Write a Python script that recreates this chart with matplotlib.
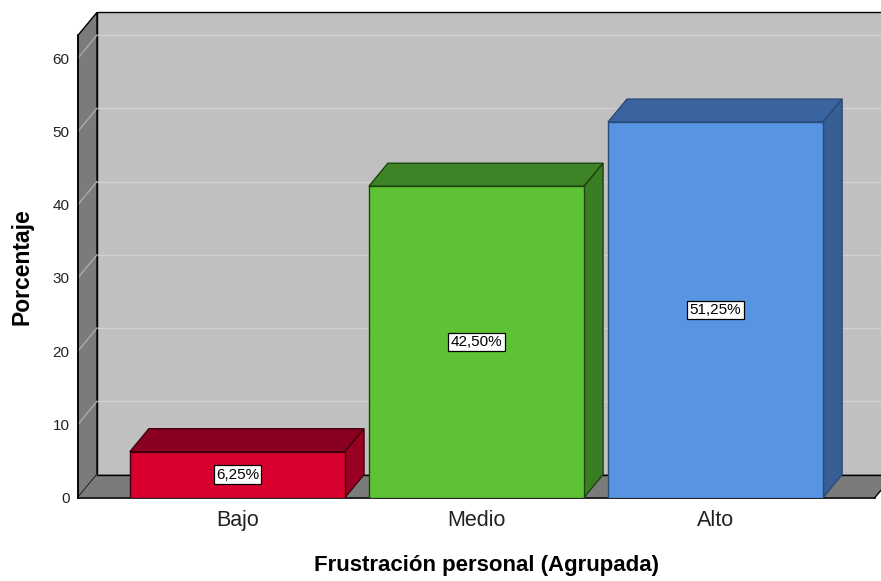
import matplotlib
matplotlib.use("Agg")
import matplotlib.pyplot as plt
from matplotlib.patches import Polygon

plt.rcParams['font.family'] = ['Liberation Sans', 'DejaVu Sans']

categories = ["Bajo", "Medio", "Alto"]
percentages = [6.25, 42.50, 51.25]
y_ticks = [0, 10, 20, 30, 40, 50, 60]
x_title = "Frustración personal (Agrupada)"
y_title = "Porcentaje"

front_colors = ["#D8002E", "#5EC334", "#5795E3"]
top_colors = ["#8A0020", "#3E8426", "#3A649F"]
side_colors = ["#9A0022", "#3A7D23", "#375E95"]
edge_colors = ["#40000E", "#1C4410", "#2A4A78"]

XMIN, XMAX = -0.667, 2.667
YMAX = 63.1
BAR_W = 0.9
# depth of the 3-D effect, in data units
DX = 19 / 239.0
DY = 23 / 7.325

W, H = 881, 581
fig = plt.figure(figsize=(W / 100, H / 100), dpi=100)
ax = fig.add_axes([78 / W, 1 - 497.5 / H, (875 - 78) / W, (497.5 - 35.3) / H])
ax.set_xlim(XMIN, XMAX)
ax.set_ylim(0, YMAX)
ax.patch.set_visible(False)
for s in ax.spines.values():
    s.set_visible(False)

wall = "#C0C0C0"
side_wall = "#7B7B7B"

# back wall
ax.add_patch(Polygon([(XMIN + DX, DY), (XMAX + DX, DY), (XMAX + DX, YMAX + DY),
                      (XMIN + DX, YMAX + DY)], closed=True, fc=wall, ec="black",
                     lw=1.0, zorder=1, clip_on=False))
# grid lines on back wall
for v in y_ticks[1:]:
    ax.plot([XMIN + DX, XMAX + DX], [v + DY, v + DY], color="#D2D2D2", lw=1.0,
            zorder=1.5, clip_on=False)
# left wall
ax.add_patch(Polygon([(XMIN, 0), (XMIN + DX, DY), (XMIN + DX, YMAX + DY), (XMIN, YMAX)],
                     closed=True, fc=side_wall, ec="black", lw=1.0, zorder=2, clip_on=False))
for v in y_ticks[1:]:
    ax.plot([XMIN, XMIN + DX], [v, v + DY], color="#ABABAB", lw=1.0, zorder=2.2,
            clip_on=False)
# floor
ax.add_patch(Polygon([(XMIN, 0), (XMAX, 0), (XMAX + DX, DY), (XMIN + DX, DY)],
                     closed=True, fc=side_wall, ec="none", zorder=2, clip_on=False))
ax.plot([XMIN + DX, XMAX + DX], [DY, DY], color="black", lw=1.0, zorder=2.3, clip_on=False)
ax.plot([XMIN, XMAX], [0, 0], color="black", lw=1.2, zorder=2.3, clip_on=False)
ax.plot([XMAX, XMAX + DX], [0, DY], color="black", lw=1.0, zorder=2.3, clip_on=False)
ax.plot([XMIN, XMIN], [0, YMAX], color="black", lw=1.2, zorder=2.4, clip_on=False)

xs = list(range(len(categories)))
bars = ax.bar(xs, percentages, width=BAR_W, color=front_colors, edgecolor=edge_colors,
              linewidth=1.0, zorder=5)
for i, (x, v) in enumerate(zip(xs, percentages)):
    l, r = x - BAR_W / 2, x + BAR_W / 2
    ax.add_patch(Polygon([(l, v), (r, v), (r + DX, v + DY), (l + DX, v + DY)], closed=True,
                         fc=top_colors[i], ec=edge_colors[i], lw=1.0, zorder=4, clip_on=False))
    ax.add_patch(Polygon([(r, 0), (r + DX, DY), (r + DX, v + DY), (r, v)], closed=True,
                         fc=side_colors[i], ec=edge_colors[i], lw=1.0, zorder=4, clip_on=False))
    ax.text(x, v / 2, f"{v:.2f}%".replace(".", ","), ha="center", va="center",
            fontsize=11, color="black", zorder=7,
            bbox=dict(boxstyle="square,pad=0.15", fc="white", ec="black", lw=0.9))

ax.set_yticks(y_ticks)
ax.set_yticklabels([str(t) for t in y_ticks], fontsize=11, color="#222222")
ax.set_xticks(xs)
ax.set_xticklabels(categories, fontsize=15.5, color="#222222")
ax.tick_params(axis="y", length=0, pad=6)
ax.tick_params(axis="x", length=0, pad=9)

fig.text(486 / W, 1 - 565 / H, x_title, ha="center", va="center", fontsize=16,
         fontweight="bold")
fig.text(22 / W, 1 - 267 / H, y_title, ha="center", va="center", fontsize=16.5,
         fontweight="bold", rotation=90)

fig.savefig("out.png", dpi=100, facecolor="white")
